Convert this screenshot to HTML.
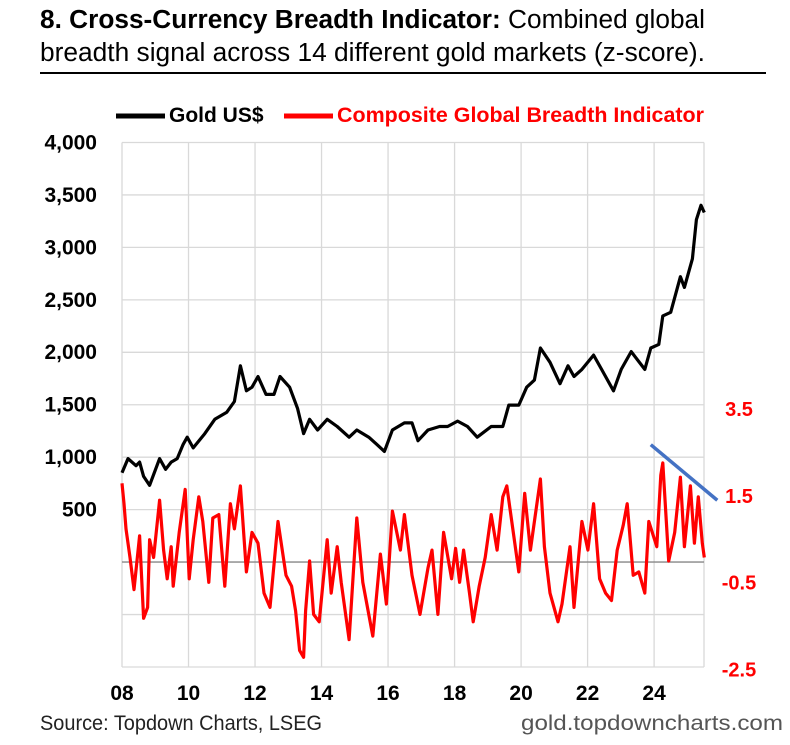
<!DOCTYPE html>
<html><head><meta charset="utf-8"><style>
body{margin:0;background:#fff;}
svg text{font-family:"Liberation Sans",Arial,sans-serif;}
</style></head><body>
<svg width="790" height="740" viewBox="0 0 790 740">
<text x="40" y="28" font-size="25.5" fill="#000" textLength="665" lengthAdjust="spacingAndGlyphs"><tspan font-weight="bold">8. Cross-Currency Breadth Indicator:</tspan> Combined global</text>
<text x="40" y="61" font-size="25.5" fill="#000" textLength="665" lengthAdjust="spacingAndGlyphs">breadth signal across 14 different gold markets (z-score).</text>
<line x1="40" y1="73" x2="766" y2="73" stroke="#000" stroke-width="2"/>
<g>
<line x1="116" y1="116" x2="165" y2="116" stroke="#000" stroke-width="5"/>
<text x="169" y="122" font-size="21" font-weight="bold">Gold US$</text>
<line x1="284" y1="116" x2="333" y2="116" stroke="#f00" stroke-width="5"/>
<text x="337" y="122" font-size="21" font-weight="bold" fill="#f00" textLength="367" lengthAdjust="spacingAndGlyphs">Composite Global Breadth Indicator</text>
</g>
<g id="grid"></g>
<g id="axes"></g>
<g id="series"></g>
<text x="40" y="730" font-size="21" fill="#222" textLength="282" lengthAdjust="spacingAndGlyphs">Source: Topdown Charts, LSEG</text>
<text x="521" y="730" font-size="21" fill="#555" textLength="262" lengthAdjust="spacingAndGlyphs">gold.topdowncharts.com</text>
</svg>
<script>
const goldYears=[2008.00,2008.18,2008.42,2008.53,2008.65,2008.83,2009.13,2009.31,2009.48,2009.66,2009.84,2009.96,2010.14,2010.49,2010.79,2011.15,2011.38,2011.56,2011.74,2011.91,2012.09,2012.33,2012.57,2012.75,2013.04,2013.28,2013.46,2013.64,2013.88,2014.17,2014.47,2014.83,2015.06,2015.42,2015.66,2015.89,2016.13,2016.49,2016.72,2016.90,2017.20,2017.55,2017.79,2018.09,2018.39,2018.68,2019.10,2019.45,2019.63,2019.93,2020.17,2020.40,2020.58,2020.87,2021.17,2021.41,2021.59,2021.83,2022.18,2022.42,2022.78,2023.01,2023.31,2023.72,2023.90,2024.14,2024.26,2024.50,2024.79,2024.91,2025.15,2025.27,2025.41,2025.51];
const goldValues=[850,986,918,952,816,731,986,884,952,986,1122,1190,1088,1224,1360,1428,1530,1870,1632,1666,1768,1598,1598,1768,1666,1462,1224,1360,1258,1360,1292,1190,1258,1190,1122,1054,1258,1326,1326,1156,1258,1292,1292,1343,1292,1190,1292,1292,1496,1496,1666,1734,2040,1904,1700,1870,1768,1836,1972,1836,1632,1836,2006,1836,2040,2074,2346,2380,2720,2618,2890,3264,3400,3332];
const breadthYears=[2008.00,2008.06,2008.12,2008.24,2008.36,2008.53,2008.65,2008.77,2008.83,2008.95,2009.13,2009.25,2009.36,2009.48,2009.54,2009.72,2009.90,2010.02,2010.14,2010.31,2010.43,2010.61,2010.73,2010.91,2011.09,2011.26,2011.38,2011.56,2011.74,2011.91,2012.09,2012.27,2012.45,2012.69,2012.93,2013.10,2013.22,2013.34,2013.46,2013.52,2013.64,2013.76,2013.93,2014.17,2014.29,2014.47,2014.59,2014.83,2015.06,2015.24,2015.54,2015.77,2015.95,2016.13,2016.37,2016.49,2016.72,2016.96,2017.20,2017.32,2017.50,2017.67,2017.91,2018.03,2018.15,2018.27,2018.45,2018.56,2018.74,2018.92,2019.10,2019.28,2019.45,2019.57,2019.75,2019.93,2020.11,2020.28,2020.40,2020.58,2020.70,2020.87,2021.11,2021.23,2021.47,2021.59,2021.83,2022.01,2022.18,2022.36,2022.54,2022.72,2022.89,2023.07,2023.19,2023.37,2023.54,2023.72,2023.84,2024.08,2024.20,2024.26,2024.44,2024.62,2024.79,2024.91,2025.09,2025.21,2025.33,2025.45,2025.51];
const breadthValues=[1.79,1.32,0.74,0.08,-0.66,0.58,-1.32,-1.07,0.49,0.08,1.40,0.25,-0.41,0.33,-0.58,0.66,1.65,-0.41,0.49,1.48,0.91,-0.49,0.99,1.07,-0.58,1.32,0.74,1.73,-0.25,0.66,0.41,-0.74,-1.07,0.91,-0.33,-0.58,-1.15,-2.06,-2.22,-1.15,0.0,-1.23,-1.40,0.49,-0.74,0.33,-0.49,-1.81,0.99,-0.49,-1.73,0.16,-0.99,1.15,0.25,1.07,-0.33,-1.23,-0.16,0.25,-1.23,0.66,-0.41,0.29,-0.49,0.25,-0.74,-1.40,-0.58,0.08,1.07,0.25,1.48,1.73,0.74,-0.25,1.56,0.25,0.91,1.89,0.33,-0.74,-1.40,-0.99,0.33,-1.07,0.91,0.25,1.32,-0.41,-0.74,-0.91,0.25,0.82,1.32,-0.33,-0.25,-0.74,0.91,0.33,1.98,2.26,0.0,0.66,1.93,0.33,1.73,0.41,1.48,0.41,0.08];
const leftTicks=[4000,3500,3000,2500,2000,1500,1000,500];
const leftTickLabels=["4,000","3,500","3,000","2,500","2,000","1,500","1,000","500"];
const rightTicks=[3.5,1.5,-0.5,-2.5];
const xTicks=[2008,2010,2012,2014,2016,2018,2020,2022,2024];
const xTickLabels=["08","10","12","14","16","18","20","22","24"];
const trendYears=[2023.9,2025.9];
const trendValues=[2.68,1.4];

const NS="http://www.w3.org/2000/svg";
const L=122,R=704,T=142.5,B=667;
const X0=2008,X1=2025.5;
function x(y){return L+(y-X0)/(X1-X0)*(R-L);}
function yL(v){return 562-v*(52.45/500);}
function yR(v){return 561-v*43.4;}
function mk(tag,attrs,parent){const e=document.createElementNS(NS,tag);for(const k in attrs)e.setAttribute(k,attrs[k]);parent.appendChild(e);return e;}
const grid=document.getElementById('grid'),axes=document.getElementById('axes'),series=document.getElementById('series');
for(let i=0;i<=10;i++){const yy=T+i*(B-T)/10;const g=mk('line',{x1:L,x2:R,y1:yy,y2:yy,stroke:'#d9d9d9','stroke-width':1.3},grid);

}
xTicks.concat([X1]).forEach(t=>{const g=mk('line',{x1:x(t),x2:x(t),y1:T,y2:B,stroke:'#d9d9d9','stroke-width':1.3},grid);

});
const z=mk('line',{x1:L,x2:R,y1:562,y2:562,stroke:'#808080','stroke-width':1.3},grid);


leftTicks.forEach((t,i)=>{const e=mk('text',{x:97,y:yL(t)+7,'font-size':21,'font-weight':'bold','text-anchor':'end'},axes);e.textContent=leftTickLabels[i];

});
rightTicks.forEach(t=>{const e=mk('text',{x:739,y:yR(t)+7,'font-size':20,'font-weight':'bold',fill:'#f00','text-anchor':'middle'},axes);e.textContent=String(t);

});
xTicks.forEach((t,i)=>{const e=mk('text',{x:x(t),y:700,'font-size':21,'font-weight':'bold','text-anchor':'middle'},axes);e.textContent=xTickLabels[i];

});
const rp=breadthYears.map((t,i)=>x(t).toFixed(1)+','+yR(breadthValues[i]).toFixed(1)).join(' ');
const red=mk('polyline',{points:rp,fill:'none',stroke:'#f00','stroke-width':3.2,'stroke-linejoin':'round'},series);


const gp=goldYears.map((t,i)=>x(t).toFixed(1)+','+yL(goldValues[i]).toFixed(1)).join(' ');
const blk=mk('polyline',{points:gp,fill:'none',stroke:'#000','stroke-width':3.2,'stroke-linejoin':'round'},series);


const tr=mk('line',{x1:x(trendYears[0]),y1:yR(trendValues[0]),x2:x(trendYears[1]),y2:yR(trendValues[1]),stroke:'#4472c4','stroke-width':3.5},series);


</script>
</body></html>
